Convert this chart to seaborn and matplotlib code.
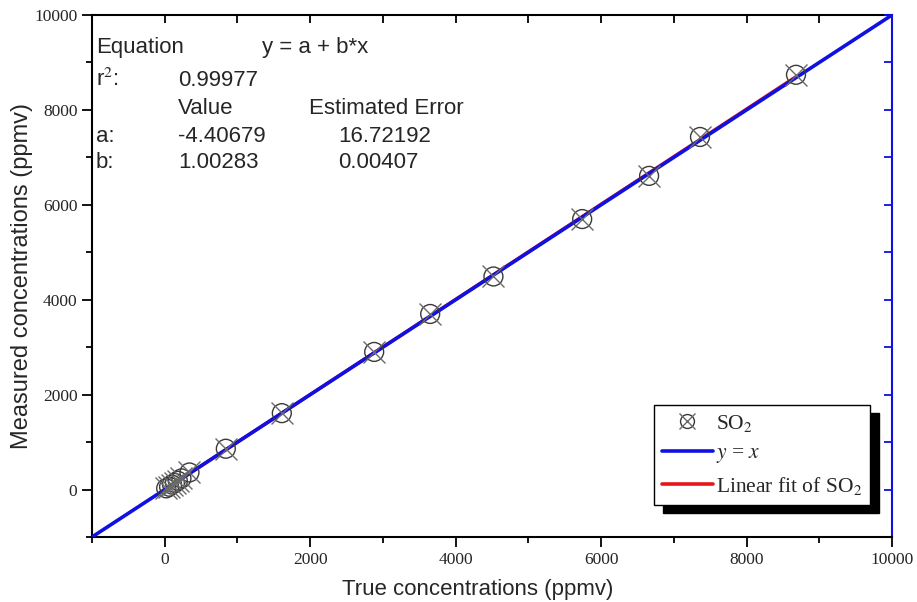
import numpy as np
import pandas as pd
import matplotlib
matplotlib.use("Agg")
import matplotlib.pyplot as plt
from matplotlib.lines import Line2D
from matplotlib.patches import Rectangle
from matplotlib.ticker import MultipleLocator
import seaborn as sns

# Calibration points: true vs. measured SO2 concentrations (ppmv)
true_conc = [20, 60, 100, 140, 180, 230, 340, 840, 1610, 2880, 3650, 4520, 5740, 6660, 7360, 8680]
measured_conc = [25, 60, 105, 140, 185, 235, 360, 860, 1610, 2900, 3700, 4490, 5700, 6610, 7430, 8740]

# Linear fit results
fit_a = -4.40679
fit_b = 1.00283
fit_a_err = 16.72192
fit_b_err = 0.00407
fit_r2 = 0.99977

x_ticks = [0, 2000, 4000, 6000, 8000, 10000]
y_ticks = [0, 2000, 4000, 6000, 8000, 10000]
axis_min, axis_max = -1000, 10000

sns.set_style("white")
plt.rcParams["mathtext.fontset"] = "stix"
serif = ["Liberation Serif", "DejaVu Serif"]
sans = ["Liberation Sans", "DejaVu Sans"]

W, H = 917, 602
fig = plt.figure(figsize=(W / 100, H / 100), dpi=100)
ax = fig.add_axes([92 / W, 1 - 537 / H, 800 / W, 522 / H])

df = pd.DataFrame({"true": true_conc, "measured": measured_conc})
fit_x = np.array([min(true_conc), max(true_conc)])
line_df = pd.DataFrame({"x": [axis_min, axis_max], "y": [axis_min, axis_max]})
fit_df = pd.DataFrame({"x": fit_x, "y": fit_a + fit_b * fit_x})

# Fit line below the identity line
sns.lineplot(data=fit_df, x="x", y="y", ax=ax, color="#e8141c", lw=2.4, zorder=2)
sns.lineplot(data=line_df, x="x", y="y", ax=ax, color="#1010e0", lw=2.6, zorder=3)

# Circle-with-cross markers
sns.scatterplot(data=df, x="true", y="measured", ax=ax, marker="o", s=185,
                facecolor="none", edgecolor="#3a3a3a", linewidth=1.0, zorder=4)
sns.scatterplot(data=df, x="true", y="measured", ax=ax, marker="x", s=250,
                color="#6a6a6a", linewidth=1.0, zorder=4)

ax.set_xlim(axis_min, axis_max)
ax.set_ylim(axis_min, axis_max)
ax.set_xticks(x_ticks)
ax.set_yticks(y_ticks)
ax.xaxis.set_minor_locator(MultipleLocator(1000))
ax.yaxis.set_minor_locator(MultipleLocator(1000))
ax.tick_params(which="major", direction="out", length=7, width=1.3, color="black",
               labelsize=12.5, bottom=True, left=True, top=False, right=False)
ax.tick_params(which="minor", direction="out", length=4, width=1.3, color="black",
               bottom=True, left=True, top=False, right=False)
for lab in ax.get_xticklabels() + ax.get_yticklabels():
    lab.set_fontfamily(serif)
ax.set_xlabel("True concentrations (ppmv)", fontsize=16, family=sans)
ax.set_ylabel("Measured concentrations (ppmv)", fontsize=17, family=sans)
ax.xaxis.set_label_coords((478 - 92) / 800, -(595 - 537) / 522)
ax.xaxis.label.set_va("baseline")
ax.yaxis.set_label_coords(-(92 - 22) / 800, 0.5)
ax.yaxis.label.set_va("center")

for side in ["left", "bottom"]:
    ax.spines[side].set_color("black")
    ax.spines[side].set_linewidth(1.5)
ax.spines["top"].set_visible(False)
ax.spines["right"].set_visible(False)

# Top axis: black, inward ticks, no labels
top = ax.secondary_xaxis("top")
top.set_xticks(np.arange(0, 10001, 1000))
top.tick_params(direction="in", length=6, width=1.3, colors="black", labeltop=False)
top.spines["top"].set_linewidth(1.5)
top.spines["top"].set_color("black")

# Right axis: blue, inward ticks, no labels
right = ax.secondary_yaxis("right")
right.set_yticks(np.arange(-1000, 10001, 1000))
right.tick_params(direction="in", length=6, width=1.3, colors="#1010e0", labelright=False)
right.spines["right"].set_linewidth(1.5)
right.spines["right"].set_color("#1010e0")

# Fit summary
def ftext(px, py, s):
    fig.text(px / W, 1 - py / H, s, fontsize=16, family=sans, va="center", ha="left")

ftext(96, 48, "Equation")
ftext(262, 48, "y = a + b*x")
ftext(96, 80, r"r$^{2}$:")
ftext(178, 80, f"{fit_r2:.5f}")
ftext(178, 108, "Value")
ftext(309, 108, "Estimated Error")
ftext(96, 136, "a:")
ftext(178, 136, f"{fit_a:.5f}")
ftext(338, 136, f"{fit_a_err:.5f}")
ftext(96, 163, "b:")
ftext(178, 163, f"{fit_b:.5f}")
ftext(338, 163, f"{fit_b_err:.5f}")

# Legend with a solid offset shadow
h_circle = Line2D([], [], ls="none", marker="o", ms=10, mfc="none", mec="#3a3a3a", mew=1.0)
h_cross = Line2D([], [], ls="none", marker="x", ms=11, color="#6a6a6a", mew=1.0)
h_id = Line2D([], [], color="#1010e0", lw=2.6)
h_fit = Line2D([], [], color="#e8141c", lw=2.6)
leg = fig.legend([(h_circle, h_cross), h_id, h_fit],
                 [r"SO$_2$", r"$y$ = $x$", r"Linear fit of SO$_2$"],
                 loc="upper left", bbox_to_anchor=(654 / W, 1 - 405 / H),
                 frameon=True, fancybox=False, edgecolor="black", framealpha=1,
                 prop={"family": serif, "size": 15.5}, handlelength=2.4,
                 handletextpad=0.15, borderpad=0.35, labelspacing=0.45,
                 borderaxespad=0.0)
leg.get_frame().set_linewidth(1.0)
leg.set_zorder(10)
fig.canvas.draw()
bb = leg.get_window_extent()
shadow = Rectangle((bb.x0 + 9, bb.y0 - 8), bb.width, bb.height, transform=None,
                   facecolor="black", edgecolor="black", zorder=9)
fig.patches.append(shadow)

fig.savefig("out.png", dpi=100)
